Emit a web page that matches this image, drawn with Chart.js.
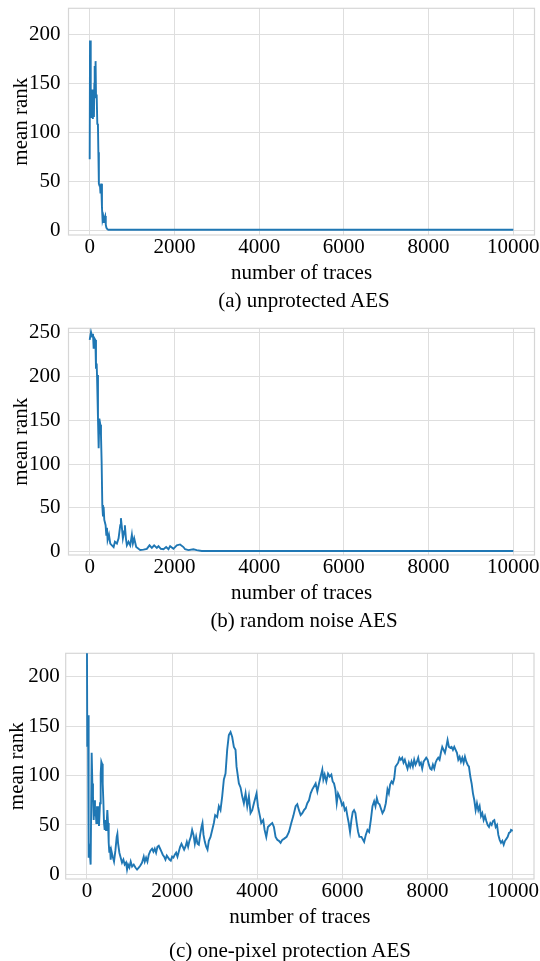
<!DOCTYPE html>
<html>
<head>
<meta charset="utf-8">
<script src="https://cdn.jsdelivr.net/npm/chart.js@4.4.1/dist/chart.umd.min.js"></script>
<style>
body { margin: 0; background: #fff; width: 540px; height: 961px; position: relative; overflow: hidden; font-family: "Liberation Serif", "Times New Roman", serif; }
canvas { position: absolute; left: 0; }
.caption { position: absolute; font-size: 21px; line-height: 24px; height: 24px; text-align: center; color: #000; white-space: nowrap; }
</style>
</head>
<body>
<canvas id="graph-a" width="540" height="290" style="top:0px"></canvas>
<div class="caption" style="left:104px; width:400px; top:288px">(a) unprotected AES</div>
<canvas id="graph-b" width="540" height="290" style="top:320px"></canvas>
<div class="caption" style="left:104px; width:400px; top:608px">(b) random noise AES</div>
<canvas id="graph-c" width="540" height="295" style="top:640px"></canvas>
<div class="caption" style="left:90px; width:400px; top:938px">(c) one-pixel protection AES</div>
<script>
var xTicks = [0, 2000, 4000, 6000, 8000, 10000];
var yTicksA = [0, 50, 100, 150, 200];
var yTicksB = [0, 50, 100, 150, 200, 250];
var yTicksC = [0, 50, 100, 150, 200];

// (a) unprotected AES
var aTraces = [0, 8, 25, 45, 60, 75, 90, 100, 110, 118, 128, 139, 150, 165, 180, 195, 205, 217, 230, 242, 255, 272, 290, 304, 320, 335, 350, 366, 380, 395, 420, 440, 600, 2000, 10000];
var aRank = [73, 194, 128, 115, 144, 114, 142, 116, 150, 168, 140, 173, 136, 139, 109, 108, 80, 48, 46, 47, 38, 48, 24, 11, 14, 8, 13, 15, 6, 3, 1.5, 1, 1, 1, 1];

// (b) random noise AES
var bTraces = [0, 31, 55, 78, 94, 110, 134, 149, 165, 173, 196, 212, 228, 251, 267, 282, 298, 314, 329, 345,
    376, 392, 408, 423, 455, 486, 525, 565, 596, 643, 682, 722, 737, 761, 784, 816, 831, 855, 878, 917,
    957, 996, 1020, 1051, 1098, 1153, 1192, 1271, 1349, 1412, 1467, 1522, 1585, 1624, 1679, 1742, 1805, 1860, 1899, 1977,
    2056, 2134, 2213, 2252, 2331, 2448, 2527, 2645, 2762, 10000];
var bRank = [242, 251, 246, 249, 232, 244, 242, 209, 215, 202, 152, 118, 152, 145, 133, 103, 53, 40, 51, 36,
    30, 19, 27, 13, 19, 9, 7, 5, 11, 9, 15, 30, 38, 27, 15, 23, 30, 15, 7, 11,
    7, 19, 9, 15, 5, 3, 1.7, 2, 3, 7, 4, 7, 4, 6, 3, 2.5, 5, 2.5, 6, 3,
    7, 8, 5, 2.5, 1.5, 2.5, 1.5, 0.5, 0.5, 0.5];

// (c) one-pixel protection AES
var cTraces = [0, 7, 24, 31, 47, 63, 86, 110, 126, 141, 157, 173, 188, 204, 220, 235, 251, 267, 282, 306,
    322, 337, 353, 369, 384, 400, 416, 431, 447, 463, 478, 494, 510, 525, 541, 557, 573, 604, 635, 667,
    698, 714, 729, 761, 792, 823, 855, 886, 918, 941, 965, 996, 1027, 1059, 1098, 1137, 1176, 1216, 1255, 1294,
    1333, 1357, 1388, 1420, 1451, 1490, 1529, 1561, 1592, 1623, 1655, 1686, 1718, 1749, 1780, 1812, 1843, 1874, 1906, 1937,
    1968, 2000, 2031, 2062, 2094, 2125, 2156, 2188, 2219, 2251, 2282, 2313, 2345, 2376, 2407, 2439, 2470, 2502, 2533, 2564,
    2596, 2627, 2658, 2690, 2713, 2737, 2768, 2800, 2831, 2862,
    2902, 2941, 2980, 3011, 3058, 3097, 3136, 3176, 3215, 3254, 3293, 3332, 3372, 3411, 3450, 3489, 3513, 3568, 3607, 3646,
    3685, 3725, 3764, 3803, 3842, 3881, 3921, 3983, 4015, 4062, 4093, 4140, 4172, 4211, 4250, 4297, 4352, 4391, 4430, 4470,
    4509, 4548, 4587, 4626, 4689, 4744, 4799, 4846, 4901, 4940, 4979, 5019, 5058, 5097, 5136, 5175, 5215, 5254, 5293, 5332,
    5371, 5411, 5450, 5489, 5528, 5552, 5583, 5622, 5662, 5701, 5740, 5771, 5803, 5834, 5866, 5897, 5928, 5960, 5991, 6022,
    6054, 6085, 6117, 6148, 6179, 6211, 6242, 6273, 6305, 6336, 6368, 6399,
    6447, 6510, 6549, 6588, 6627, 6667, 6706, 6745, 6776, 6808, 6839, 6871, 6902, 6941, 6980, 7019, 7059, 7090, 7121, 7153,
    7184, 7216, 7247, 7278, 7310, 7341, 7372, 7404, 7435, 7466, 7498, 7529, 7561, 7592, 7623, 7655, 7686, 7717, 7749, 7780,
    7812, 7843, 7874, 7906, 7937, 7968, 8000, 8031, 8063, 8094, 8125, 8157, 8188, 8219, 8251, 8282, 8313, 8345, 8376, 8408,
    8439, 8470, 8502, 8533, 8564, 8596, 8627, 8659, 8690, 8721, 8753, 8784, 8816, 8847, 8878, 8910, 8941, 8972, 9004, 9035,
    9066, 9098, 9129, 9160, 9192, 9223, 9255, 9286, 9317, 9349, 9380, 9412, 9443, 9474, 9506, 9537, 9568, 9600, 9631, 9662,
    9694, 9725, 9757, 9788, 9819, 9851, 9882, 9913, 9945, 9960, 10000];
var cRank = [224, 129, 161, 32, 17, 24, 10, 123, 92, 79, 55, 75, 59, 65, 52, 69, 59, 69, 49, 72,
    102, 114, 112, 92, 75, 52, 45, 55, 45, 52, 65, 52, 32, 22, 28, 15, 24, 18, 13, 24,
    38, 41, 32, 22, 17, 12, 15, 10, 12, 5, 10, 7, 13, 8, 10, 7, 5, 7, 9, 12,
    18, 13, 17, 13, 20, 24, 26, 23, 26, 22, 28, 29, 26, 23, 20, 18, 15, 19, 17, 15,
    14, 18, 17, 20, 22, 18, 23, 28, 31, 28, 25, 28, 33, 28, 34, 38, 45, 40, 31, 38,
    31, 30, 40, 48, 52, 40, 33, 28, 25, 34,
    38, 45, 52, 60, 58, 69, 65, 79, 96, 102, 126, 141, 144, 139, 129, 126, 109, 92, 88, 79,
    72, 82, 69, 79, 62, 65, 72, 82, 69, 59, 52, 55, 45, 38, 48, 50, 52, 48, 38, 35,
    34, 32, 35, 36, 38, 43, 52, 59, 69, 71, 65, 60, 62, 65, 67, 72, 75, 82, 86, 89,
    92, 84, 92, 99, 106, 96, 101, 94, 102, 99, 101, 94, 92, 86, 72, 82, 79, 75, 70, 72,
    65, 67, 59, 52, 43, 55, 63, 65, 62, 52, 43, 38,
    38, 33, 40, 45, 43, 55, 69, 74, 69, 77, 72, 71, 67, 62, 65, 72, 86, 82, 91, 94,
    92, 97, 109, 111, 113, 118, 116, 118, 113, 116, 111, 107, 113, 109, 114, 109, 116, 111, 114, 118,
    111, 113, 107, 114, 116, 118, 116, 111, 107, 106, 111, 107, 113, 116, 118, 116, 123, 129, 126, 123,
    129, 136, 129, 128, 129, 126, 129, 126, 123, 116, 119, 114, 118, 113, 119, 114, 111, 109, 99, 92,
    82, 75, 65, 72, 65, 69, 59, 62, 55, 59, 54, 50, 48, 52, 50, 54, 55, 48, 50, 40,
    35, 32, 34, 30, 34, 36, 38, 42, 43, 45, 44];

var serif = '"Liberation Serif", "Times New Roman", serif';

// light grey box round the plot area, like the matplotlib style
var frame = {
    id: 'frame',
    beforeDatasetsDraw: function (chart) {
        var a = chart.chartArea;
        var ctx = chart.ctx;
        ctx.save();
        ctx.strokeStyle = '#d6d6d6';
        ctx.lineWidth = 1.2;
        ctx.strokeRect(a.left, a.top, a.right - a.left, a.bottom - a.top);
        ctx.restore();
    }
};

createGraph('graph-a', aTraces, aRank, yTicksA, { left: 68.5, right: 534.5, top: 8.3, bottom: 235, yMin: -4.4, yMax: 226.9, titleX: 8.4, titleBottom: 4.4, gap: 8 });
createGraph('graph-b', bTraces, bRank, yTicksB, { left: 68.5, right: 534.5, top: 8.3, bottom: 235, yMin: -4.1, yMax: 255.3, titleX: 8.4, titleBottom: 4.4, gap: 8 });
createGraph('graph-c', cTraces, cRank, yTicksC, { left: 65.7, right: 534, top: 13.3, bottom: 239, yMin: -4.6, yMax: 223.6, titleX: 5, titleBottom: 5.4, gap: 6 });

function createGraph(id, traces, ranks, yTicks, box) {
    var canvas = document.getElementById(id);
    var ctx = canvas.getContext('2d');
    var H = canvas.height;

    var data = {
        datasets: [{
            data: traces.map(function (t, i) { return { x: t, y: ranks[i] }; }),
            borderColor: '#1f77b4',
            borderWidth: 1.9,
            pointRadius: 0,
            tension: 0,
            fill: false
        }]
    };

    var options = {
        responsive: false,
        animation: false,
        events: [],
        layout: {
            autoPadding: false,
            padding: { left: 0, right: 540 - box.right, top: box.top, bottom: 0 }
        },
        plugins: {
            legend: { display: false },
            tooltip: { enabled: false }
        },
        scales: {
            x: {
                type: 'linear',
                min: -500,
                max: 10500,
                afterBuildTicks: function (scale) {
                    scale.ticks = xTicks.map(function (v) { return { value: v }; });
                },
                afterFit: function (scale) {
                    scale.height = H - box.bottom;
                    scale.paddingLeft = 0;
                    scale.paddingRight = 0;
                },
                grid: { color: '#dedede', lineWidth: 1, drawTicks: false },
                border: { display: false },
                ticks: {
                    padding: 0,
                    maxRotation: 0,
                    color: '#000',
                    font: { family: serif, size: 21 },
                    callback: function (v) { return String(v); }
                },
                title: {
                    display: true,
                    text: 'number of traces',
                    color: '#000',
                    font: { family: serif, size: 21 },
                    padding: { top: 0, bottom: box.titleBottom }
                }
            },
            y: {
                type: 'linear',
                min: box.yMin,
                max: box.yMax,
                afterBuildTicks: function (scale) {
                    scale.ticks = yTicks.map(function (v) { return { value: v }; });
                },
                afterFit: function (scale) {
                    scale.width = box.left;
                    scale.paddingTop = 0;
                    scale.paddingBottom = 0;
                },
                grid: { color: '#dedede', lineWidth: 1, drawTicks: false },
                border: { display: false },
                ticks: {
                    padding: box.gap,
                    color: '#000',
                    font: { family: serif, size: 21 },
                    callback: function (v) { return String(v); }
                },
                title: {
                    display: true,
                    text: 'mean rank',
                    color: '#000',
                    font: { family: serif, size: 21 },
                    padding: { top: box.titleX, bottom: 0 }
                }
            }
        }
    };

    var chart = new Chart(ctx, {
        type: 'line',
        data: data,
        options: options,
        plugins: [frame]
    });
}
</script>
</body>
</html>
